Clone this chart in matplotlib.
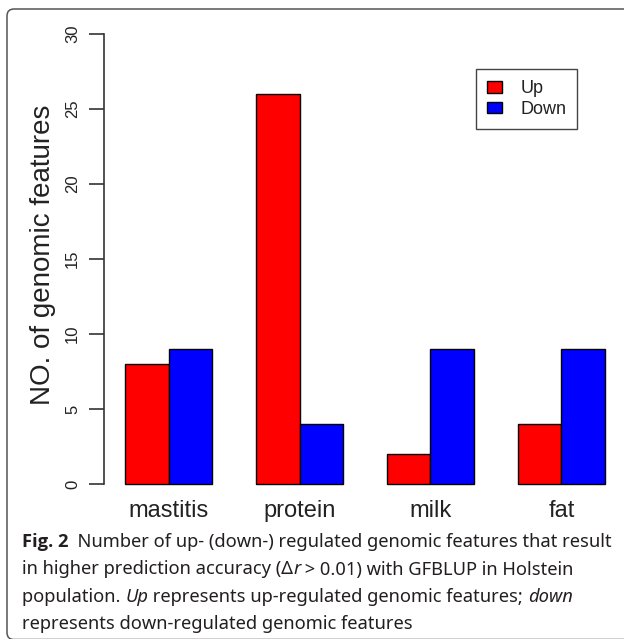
import matplotlib
matplotlib.use("Agg")
import matplotlib.pyplot as plt
from matplotlib.patches import FancyBboxPatch
from matplotlib.transforms import IdentityTransform
import numpy as np

# ---- data ----
categories = ["mastitis", "protein", "milk", "fat"]
up_values = [8, 26, 2, 4]
down_values = [9, 4, 9, 9]
series_names = ["Up", "Down"]
y_ticks = [0, 5, 10, 15, 20, 25, 30]

W, H = 624, 639
plt.rcParams['font.family'] = ['Liberation Sans', 'DejaVu Sans']
fig = plt.figure(figsize=(W / 100, H / 100), dpi=100)
fig.patch.set_facecolor("white")

def fx(px):
    return px / W

def fy(py):
    return 1 - py / H

# axes region (pixels from top-left)
ax_left, ax_right = 104, 624
ax_top, ax_bottom = 15.5, 502.5
ax = fig.add_axes([fx(ax_left), fy(ax_bottom), (ax_right - ax_left) / W, (ax_bottom - ax_top) / H])

# R-style beside barplot positions (space = c(0, 1))
n = len(categories)
left_up = np.array([1 + 3 * g for g in range(n)], dtype=float)
left_down = left_up + 1
bw = 1.0
ax.bar(left_up, up_values, width=bw, align="edge", color="#FF0000", edgecolor="black", linewidth=1.0, label=series_names[0])
ax.bar(left_down, down_values, width=bw, align="edge", color="#0000FF", edgecolor="black", linewidth=1.0, label=series_names[1])

ax.set_xlim(0.519, 12.435)
ax.set_ylim(-1.2, 31.2)
for s in ["top", "right", "bottom"]:
    ax.spines[s].set_visible(False)
ax.spines["left"].set_bounds(0, 30)
ax.spines["left"].set_color("#333333")
ax.spines["left"].set_linewidth(1.2)
ax.set_yticks(y_ticks)
ax.set_yticklabels([str(t) for t in y_ticks], rotation=90, va="center")
ax.tick_params(axis="y", length=10.8, width=1.2, color="#333333", pad=6.5, labelsize=12, labelcolor="#222222")
ax.set_xticks([])
ax.patch.set_alpha(0)

centers = left_up + 1
for c, name in zip(centers, categories):
    ax.text(c, -1.75, name, ha="center", va="center", fontsize=17, color="#222222", clip_on=False)

fig.text(fx(43), fy(255), "NO. of genomic features", rotation=90, ha="center", va="center",
         fontsize=20, color="#222222")

leg = ax.legend(loc="upper left", bbox_to_anchor=(fx(476), fy(69)), bbox_transform=fig.transFigure,
                borderaxespad=0, fontsize=13, handlelength=0.83, handleheight=0.61,
                handletextpad=1.0, labelspacing=0.2, borderpad=0.62, fancybox=False,
                framealpha=1, edgecolor="#444444")
leg.get_frame().set_linewidth(1.0)
for t in leg.get_texts():
    t.set_color("#222222")

# ---- caption ----
cap_font = ["Noto Sans", "DejaVu Sans"]
bold_font = ["Open Sans", "Lato", "DejaVu Sans"]
cap_color = "#231f20"
lines = [
    [("Fig. 2", dict(fontweight="bold", family=bold_font)), ("  Number of up- (down-) regulated genomic features that result", {})],
    [("in higher prediction accuracy (Δ", {}), ("r", dict(style="italic")), (" > 0.01) with GFBLUP in Holstein", {})],
    [("population. ", {}), ("Up", dict(style="italic")), (" represents up-regulated genomic features; ", {}), ("down", dict(style="italic"))],
    [("represents down-regulated genomic features", {})],
]
baselines = [547, 574.5, 602, 629]
cap_x0 = 22
target_w = 590

renderer = fig.canvas.get_renderer()

def draw_line(runs, ybase, fs, draw=True):
    x = cap_x0
    objs = []
    for txt, kw in runs:
        kw = dict(kw)
        fam = kw.pop("family", cap_font)
        t = fig.text(fx(x), fy(ybase), txt, fontsize=fs, family=fam, color=cap_color,
                     va="baseline", ha="left", **kw)
        bb = t.get_window_extent(renderer)
        x = bb.x1
        objs.append(t)
    if not draw:
        for t in objs:
            t.remove()
    return x - cap_x0

w0 = draw_line(lines[0], baselines[0], 12, draw=False)
fs = 12 * target_w / w0
for runs, yb in zip(lines, baselines):
    draw_line(runs, yb, fs)

# ---- rounded border ----
border = FancyBboxPatch((7, -0.5), 640, 630 - (-0.5), boxstyle="round,pad=0,rounding_size=7",
                        transform=IdentityTransform(), facecolor="none", edgecolor="#555555",
                        linewidth=1.1)
fig.patches.append(border)

fig.savefig("out.png", dpi=100, facecolor="white")
